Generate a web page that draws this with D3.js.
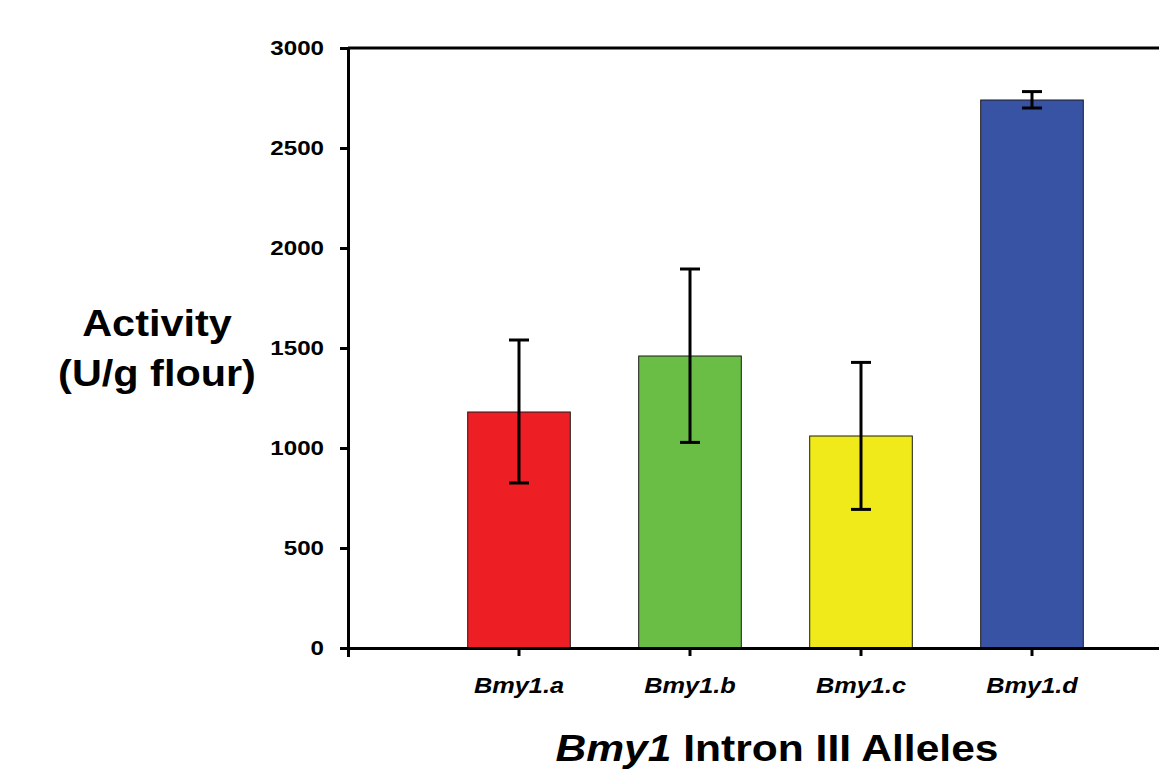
<!DOCTYPE html>
<html>
<head>
<meta charset="utf-8">
<script src="https://cdn.jsdelivr.net/npm/d3@7"></script>
<style>
	html, body { margin: 0; padding: 0; background: #fff; }
	.plot { width: 1159px; height: 774px; overflow: hidden; }
	text { font-family: "Liberation Sans", Arial, sans-serif; font-weight: bold; fill: #000; }
</style>
</head>
<body>
<div class="plot"></div>
<script>

// Data
const alleles = ['Bmy1.a', 'Bmy1.b', 'Bmy1.c', 'Bmy1.d'];
const activity = [1180, 1460, 1060, 2740];
const errLow = [825, 1028, 693, 2700];
const errHigh = [1540, 1895, 1428, 2782];
const barColors = ['#ed1f24', '#6abd45', '#f1ea1a', '#3953a4'];
const yTicks = [0, 500, 1000, 1500, 2000, 2500, 3000];

const root = d3.select('.plot').node();
const w = root.clientWidth;
const h = root.clientHeight;

// The original figure is a bit wider than its fonts, so texts get stretched
const wide = 1.15;
function widen(sel, k){
	sel.each(function(){
		const len = this.getComputedTextLength();
		d3.select(this)
			.attr('textLength', len * k)
			.attr('lengthAdjust', 'spacingAndGlyphs');
	});
}

// Scales
const x = d3.scaleBand()
	.domain(alleles)
	.range([348, 1203])
	.paddingInner(0.4)
	.paddingOuter(0.7);
const y = d3.scaleLinear()
	.domain([0, 3000])
	.range([648, 48]);

const svg = d3.select(root).append('svg')
	.attr('width', w)
	.attr('height', h);

const data = alleles.map((d, i) => ({
	name: d,
	value: activity[i],
	lo: errLow[i],
	hi: errHigh[i],
	color: barColors[i]
}));

// Bars
svg.append('g').selectAll('rect')
	.data(data)
	.join('rect')
	.attr('x', d => x(d.name))
	.attr('y', d => y(d.value))
	.attr('width', x.bandwidth())
	.attr('height', d => y(0) - y(d.value))
	.attr('fill', d => d.color)
	.attr('stroke', '#1a1a1a')
	.attr('stroke-width', 1);

// Error bars
const err = svg.append('g')
	.attr('stroke', '#000')
	.attr('stroke-width', 3)
	.selectAll('g')
	.data(data)
	.join('g')
	.attr('transform', d => `translate(${x(d.name) + x.bandwidth()/2},0)`);
err.append('line')
	.attr('y1', d => y(d.lo))
	.attr('y2', d => y(d.hi));
err.append('line')
	.attr('x1', -10).attr('x2', 10)
	.attr('y1', d => y(d.hi)).attr('y2', d => y(d.hi));
err.append('line')
	.attr('x1', -10).attr('x2', 10)
	.attr('y1', d => y(d.lo)).attr('y2', d => y(d.lo));

// Top frame line
svg.append('line')
	.attr('x1', x.range()[0]).attr('x2', x.range()[1])
	.attr('y1', y(3000)).attr('y2', y(3000))
	.attr('stroke', '#000')
	.attr('stroke-width', 3);

// Y axis
const yAxis = svg.append('g')
	.attr('transform', `translate(${x.range()[0]},0)`)
	.call(d3.axisLeft(y)
		.tickValues(yTicks)
		.tickFormat(d3.format('d'))
		.tickSize(8)
		.tickSizeOuter(0)
		.tickPadding(16));
yAxis.selectAll('path, line')
	.attr('stroke', '#000')
	.attr('stroke-width', 3);
yAxis.selectAll('text')
	.style('font-size', '21px')
	.attr('fill', '#000');

// X axis
const xAxis = svg.append('g')
	.attr('transform', `translate(0,${y(0)})`)
	.call(d3.axisBottom(x).tickSize(8).tickSizeOuter(9).tickPadding(21));
xAxis.selectAll('path, line')
	.attr('stroke', '#000')
	.attr('stroke-width', 3);
xAxis.selectAll('text')
	.style('font-size', '22px')
	.style('font-style', 'italic')
	.attr('fill', '#000');

// Axis titles
const yTitle = svg.append('text')
	.attr('text-anchor', 'middle')
	.style('font-size', '36px');
yTitle.append('tspan')
	.attr('x', 157).attr('y', 336)
	.text('Activity');
yTitle.append('tspan')
	.attr('x', 157).attr('y', 386)
	.text('(U/g flour)');

const xTitle = svg.append('text')
	.attr('x', 777)
	.attr('y', 761)
	.attr('text-anchor', 'middle')
	.style('font-size', '37px');
xTitle.append('tspan')
	.style('font-style', 'italic')
	.text('Bmy1');
xTitle.append('tspan')
	.text(' Intron III Alleles');

widen(yAxis.selectAll('text'), wide);
widen(xAxis.selectAll('text'), wide);
widen(yTitle.selectAll('tspan'), wide);
widen(xTitle, wide);

</script>
</body>
</html>
